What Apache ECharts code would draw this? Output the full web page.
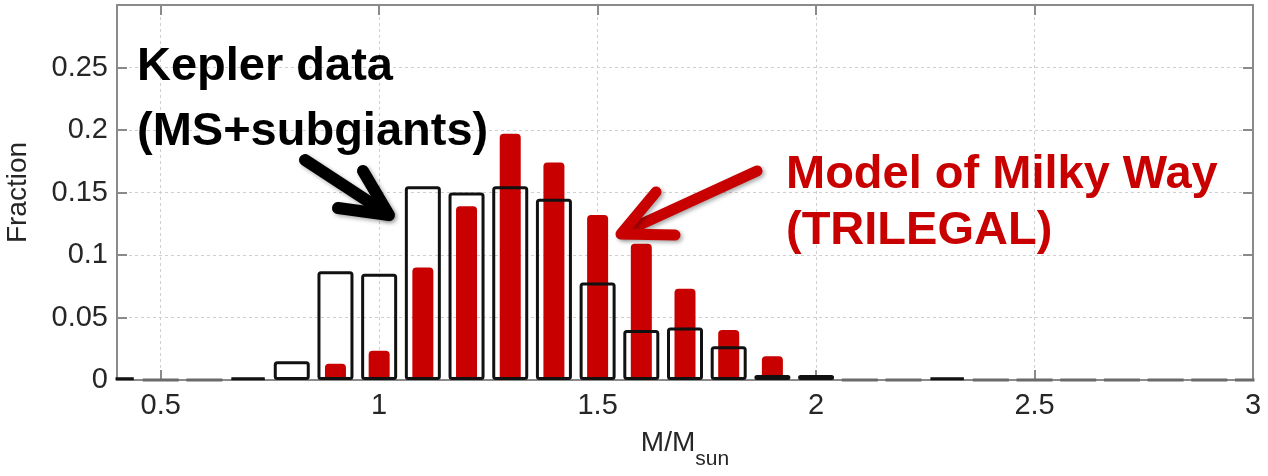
<!DOCTYPE html>
<html><head><meta charset="utf-8">
<script src="https://cdn.jsdelivr.net/npm/echarts@6/dist/echarts.min.js"></script>
<style>html,body{margin:0;padding:0;background:#fff}#c{width:1268px;height:476px}</style>
</head><body><div id="c"></div>
<script>
// Bin centres (M/Msun)
const massBins = [0.4,0.5,0.6,0.7,0.8,0.9,1.0,1.1,1.2,1.3,1.4,1.5,1.6,1.7,1.8,1.9,2.0,2.1,2.2,2.3,2.4,2.5,2.6,2.7,2.8,2.9,3.0];
// Kepler data (open black bars)
const keplerFraction = [0.002,0,0,0.002,0.015,0.087,0.085,0.155,0.150,0.155,0.145,0.078,0.040,0.042,0.027,0.004,0.004,0,0,0.002,0,0,0,0,0,0,0];
// TRILEGAL model (filled red bars)
const trilegalFraction = [0,0,0,0,0,0.013,0.0235,0.090,0.139,0.197,0.174,0.132,0.109,0.073,0.040,0.019,0.003,0,0,0,0,0,0,0,0,0,0];
const xTickValues = [0.5,1,1.5,2,2.5,3];
const yTickValues = [0,0.05,0.1,0.15,0.2,0.25];
const keplerLabel = ['Kepler data','(MS+subgiants)'];
const modelLabel = ['Model of Milky Way','(TRILEGAL)'];
const xName = ['M/M','sun'];
const yName = 'Fraction';

const FONT = '"Liberation Sans", Arial, Helvetica, sans-serif';
const GRAY = '#8a8a8a';
const RED = '#c80000';
const splitStyle = {show:true, lineStyle:{color:'#cfcfcf', type:[3,3], width:1}};

const chart = echarts.init(document.getElementById('c'), null, {renderer:'canvas'});
chart.setOption({
  animation:false,
  backgroundColor:'#fff',
  textStyle:{fontFamily:FONT},
  grid:{left:117, right:15, top:5, bottom:96, containLabel:false, outerBoundsMode:'none'},
  xAxis:[
    {type:'value', position:'bottom', min:0.4, max:3,
     axisLine:{show:true, onZero:false, lineStyle:{color:GRAY, width:2}},
     axisTick:{show:true, inside:true, length:10, customValues:xTickValues, lineStyle:{color:GRAY, width:2}},
     axisLabel:{show:true, customValues:xTickValues, margin:11, fontSize:29, color:'#262626', fontFamily:FONT,
       formatter:v=>String(v)},
     splitLine:splitStyle,
     name:'{m|'+xName[0]+'}{s|'+xName[1]+'}', nameLocation:'middle', nameGap:49,
     nameTextStyle:{rich:{
       m:{fontSize:28, color:'#262626', fontFamily:FONT, lineHeight:28, verticalAlign:'top'},
       s:{fontSize:21, color:'#262626', fontFamily:FONT, lineHeight:21, padding:[20,0,0,0], verticalAlign:'top'}
     }}
    },
    {type:'value', position:'top', min:0.4, max:3,
     axisLine:{show:true, onZero:false, lineStyle:{color:GRAY, width:2}},
     axisTick:{show:true, inside:true, length:10, customValues:xTickValues, lineStyle:{color:GRAY, width:2}},
     axisLabel:{show:false}, splitLine:{show:false}
    }
  ],
  yAxis:[
    {type:'value', position:'left', min:0, max:0.3, interval:0.05,
     axisLine:{show:true, lineStyle:{color:GRAY, width:2}},
     axisTick:{show:true, inside:true, length:10, lineStyle:{color:GRAY, width:2}},
     axisLabel:{show:false},
     splitLine:splitStyle,
     name:yName, nameLocation:'middle', nameGap:85, nameRotate:90,
     nameTextStyle:{fontSize:28, color:'#262626', fontFamily:FONT}
    },
    {type:'value', position:'right', min:0, max:0.3, interval:0.05,
     axisLine:{show:true, lineStyle:{color:GRAY, width:2}},
     axisTick:{show:true, inside:true, length:10, lineStyle:{color:GRAY, width:2}},
     axisLabel:{show:false}, splitLine:{show:false}
    },
    {type:'value', position:'left', min:0, max:0.3, interval:0.05, z:10,
     axisLine:{show:false}, axisTick:{show:false}, splitLine:{show:false},
     axisLabel:{show:true, showMaxLabel:false, margin:9, fontSize:29, color:'#262626', fontFamily:FONT,
       formatter:v=>String(+v.toFixed(2))}
    }
  ],
  series:[
    {type:'bar', name:'TRILEGAL', xAxisIndex:0, yAxisIndex:0, barWidth:21, clip:true,
     itemStyle:{color:RED, borderRadius:[4,4,0,0]},
     data:massBins.map((m,i)=>[m, trilegalFraction[i]])
    },
    {type:'bar', name:'Kepler', xAxisIndex:1, yAxisIndex:0, barWidth:36, clip:true,
     itemStyle:{color:'rgba(0,0,0,0)', borderColor:'#111', borderWidth:3, borderRadius:2},
     data:massBins.map((m,i)=>keplerFraction[i]===0
       ? {value:[m, keplerFraction[i]], itemStyle:{borderColor:'#6a6a6a'}}
       : [m, keplerFraction[i]])
    }
  ],
  graphic:[
    // masks for half bins that the value axis does not clip
    {type:'rect', z:5, shape:{x:80, y:374, width:35.5, height:12}, style:{fill:'#fff'}},
    {type:'rect', z:5, shape:{x:1254.5, y:374, width:20, height:12}, style:{fill:'#fff'}},
    {type:'text', z:100, style:{text:keplerLabel[0], x:137, y:67, verticalAlign:'middle', font:'bold 47px '+FONT, fill:'#000'}},
    {type:'text', z:100, style:{text:keplerLabel[1], x:137, y:132, verticalAlign:'middle', font:'bold 47px '+FONT, fill:'#000'}},
    {type:'text', z:100, style:{text:modelLabel[0], x:786, y:175, verticalAlign:'middle', font:'bold 47px '+FONT, fill:RED}},
    {type:'text', z:100, style:{text:modelLabel[1], x:786, y:231, verticalAlign:'middle', font:'bold 47px '+FONT, fill:RED}},
    // black arrow
    {type:'polyline', z:100, shape:{points:[[305,160],[386,213]]},
     style:{stroke:'#000', lineWidth:12, lineCap:'round', lineJoin:'round', fill:null,
       shadowBlur:4, shadowColor:'rgba(0,0,0,0.35)', shadowOffsetX:2, shadowOffsetY:2}},
    {type:'polyline', z:100, shape:{points:[[363,171],[389,215],[338,208]]},
     style:{stroke:'#000', lineWidth:12, lineCap:'round', lineJoin:'round', fill:null,
       shadowBlur:4, shadowColor:'rgba(0,0,0,0.35)', shadowOffsetX:2, shadowOffsetY:2}},
    // red arrow
    {type:'polyline', z:100, shape:{points:[[757,171],[624,232]]},
     style:{stroke:RED, lineWidth:11, lineCap:'round', lineJoin:'round', fill:null,
       shadowBlur:4, shadowColor:'rgba(0,0,0,0.35)', shadowOffsetX:2, shadowOffsetY:2}},
    {type:'polyline', z:100, shape:{points:[[656,192],[621,234],[675,235]]},
     style:{stroke:RED, lineWidth:11, lineCap:'round', lineJoin:'round', fill:null,
       shadowBlur:4, shadowColor:'rgba(0,0,0,0.35)', shadowOffsetX:2, shadowOffsetY:2}}
  ]
});
</script></body></html>
